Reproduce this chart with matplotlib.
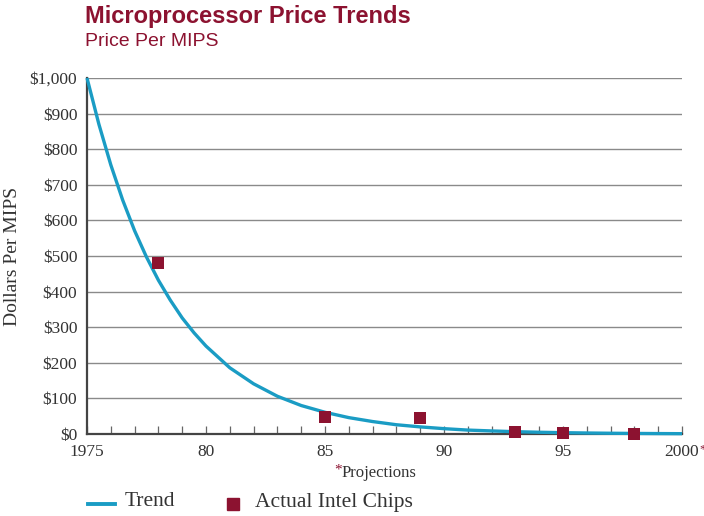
import matplotlib
matplotlib.use("Agg")
import matplotlib.pyplot as plt
from matplotlib.ticker import FixedLocator, MultipleLocator

# Trend curve, dollars per MIPS by year
trend_years = [1975, 1975.5, 1976, 1976.5, 1977, 1977.5, 1978, 1978.5, 1979, 1979.5,
               1980, 1981, 1982, 1983, 1984, 1985, 1986, 1987, 1988, 1989,
               1990, 1991, 1992, 1993, 1994, 1995, 1996, 1997, 1998, 1999, 2000]
trend_values = [1000, 870, 756, 657, 571, 497, 432, 376, 326, 284,
                247, 186, 141, 106, 80, 61, 46, 35, 26, 20,
                15, 11, 8.6, 6.5, 4.9, 3.7, 2.8, 2.1, 1.6, 1.2, 0.9]

# Actual Intel chips
chip_years = [1978, 1985, 1989, 1993, 1995, 1998]
chip_values = [480, 48, 45, 5, 2, 0]

y_ticks = [0, 100, 200, 300, 400, 500, 600, 700, 800, 900, 1000]
y_labels = ["$0", "$100", "$200", "$300", "$400", "$500", "$600", "$700",
            "$800", "$900", "$1,000"]
x_ticks = [1975, 1980, 1985, 1990, 1995, 2000]
x_labels = ["1975", "80", "85", "90", "95", "2000"]

title = "Microprocessor Price Trends"
subtitle = "Price Per MIPS"

RED = "#8c1230"
TEAL = "#1a9cc4"
TEXT = "#333333"
GRID = "#8a8a8a"
SERIF = ["Liberation Serif", "DejaVu Serif"]
SANS = ["Liberation Sans", "DejaVu Sans"]

fig = plt.figure(figsize=(7.04, 5.16), dpi=100)
ax = fig.add_axes([87 / 704, 1 - 434 / 516, (682 - 87) / 704, (434 - 78) / 516])

ax.set_xlim(1975, 2000)
ax.set_ylim(0, 1000)

for v in y_ticks[1:]:
    ax.axhline(v, color=GRID, lw=1.0, zorder=1)

ax.plot(trend_years, trend_values, color=TEAL, lw=2.4, zorder=3,
        solid_capstyle="butt", solid_joinstyle="round", clip_on=False)
ax.scatter(chip_years, chip_values, marker="s", s=64, color=RED, zorder=4,
           clip_on=False, linewidths=0)

for s in ["top", "right"]:
    ax.spines[s].set_visible(False)
for s in ["left", "bottom"]:
    ax.spines[s].set_color("#444444")
    ax.spines[s].set_linewidth(1.6)

ax.yaxis.set_major_locator(FixedLocator(y_ticks))
ax.set_yticklabels(y_labels, fontfamily=SERIF, fontsize=12.5, color=TEXT)
ax.tick_params(axis="y", length=0, pad=7)

ax.xaxis.set_major_locator(FixedLocator(x_ticks))
ax.set_xticklabels(x_labels, fontfamily=SERIF, fontsize=12.5, color=TEXT)
ax.xaxis.set_minor_locator(MultipleLocator(1))
ax.tick_params(axis="x", which="both", direction="in", length=6, width=0.9,
               color="#666666", pad=7)

# asterisk marking the projected year
fig.text(699 / 704, 1 - 449 / 516, "*", fontsize=9, color=RED,
         fontfamily=SERIF, ha="left", va="center")

ax.set_ylabel("Dollars Per MIPS", fontfamily=SERIF, fontsize=14, color=TEXT,
              labelpad=6)

fig.text(334 / 704, 1 - 470 / 516, "*", fontsize=11, color=RED,
         fontfamily=SERIF, ha="left", va="center")
fig.text(342 / 704, 1 - 473 / 516, "Projections", fontsize=12, color=TEXT,
         fontfamily=SERIF, ha="left", va="center")

fig.text(85 / 704, 1 - 16 / 516, title, fontsize=17, fontweight="bold",
         color=RED, fontfamily=SANS, ha="left", va="center")
fig.text(85 / 704, 1 - 42 / 516, subtitle, fontsize=14, color=RED,
         fontfamily=SANS, ha="left", va="center")

# legend row
fig.add_artist(plt.Line2D([88 / 704, 115 / 704], [1 - 504 / 516] * 2,
                          color=TEAL, lw=2.8, transform=fig.transFigure))
fig.text(125 / 704, 1 - 502 / 516, "Trend", fontsize=15.5, color=TEXT,
         fontfamily=SERIF, ha="left", va="center")
fig.add_artist(plt.Line2D([233 / 704], [1 - 504 / 516], marker="s",
                          markersize=8, color=RED, lw=0,
                          transform=fig.transFigure))
fig.text(255 / 704, 1 - 502 / 516, "Actual Intel Chips", fontsize=15.5,
         color=TEXT, fontfamily=SERIF, ha="left", va="center")

fig.savefig("out.png", dpi=100)
